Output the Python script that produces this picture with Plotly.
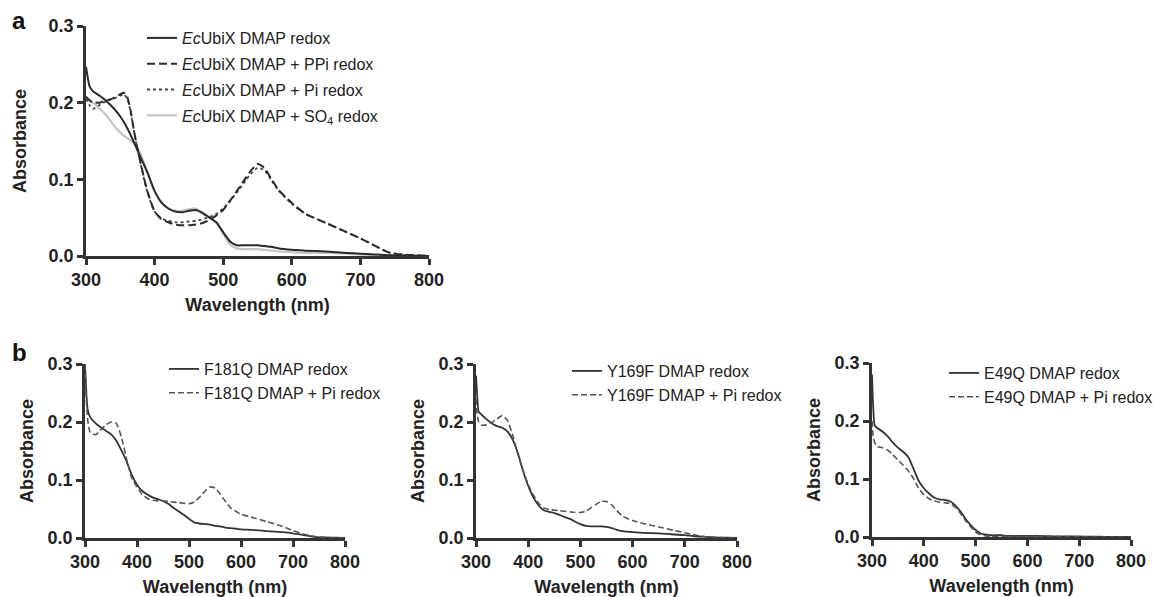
import plotly.graph_objects as go

# ---------------- data ----------------
wl_a = [300,305,310,320,330,340,350,355,360,365,370,375,380,385,390,400,410,420,430,440,
        450,460,470,480,490,500,510,520,530,540,550,560,570,580,600,620,650,680,700,720,
        740,760,800]
ubix = [0.247,0.222,0.215,0.209,0.202,0.193,0.182,0.175,0.167,0.158,0.148,0.138,0.128,0.118,0.108,
        0.085,0.070,0.062,0.058,0.057,0.059,0.060,0.056,0.050,0.044,0.031,0.019,0.014,0.014,0.014,
        0.014,0.013,0.012,0.010,0.008,0.007,0.006,0.004,0.003,0.002,0.001,0.001,0.000]
ubix_ppi = [0.208,0.203,0.200,0.200,0.203,0.206,0.211,0.213,0.208,0.190,0.163,0.140,0.120,0.100,0.083,
            0.058,0.048,0.044,0.041,0.040,0.040,0.041,0.043,0.047,0.053,0.060,0.072,0.085,0.098,0.111,
            0.120,0.115,0.101,0.087,0.069,0.055,0.043,0.031,0.023,0.014,0.005,0.002,0.000]
ubix_pi = [0.205,0.197,0.192,0.197,0.202,0.205,0.209,0.211,0.206,0.188,0.162,0.139,0.119,0.099,0.082,
           0.058,0.049,0.046,0.044,0.044,0.045,0.046,0.048,0.051,0.055,0.062,0.072,0.083,0.095,0.107,
           0.115,0.112,0.099,0.086,0.068,0.055,0.043,0.031,0.023,0.014,0.005,0.002,0.000]
ubix_so4 = [0.206,0.204,0.200,0.192,0.183,0.171,0.161,0.157,0.154,0.151,0.147,0.141,0.132,0.120,0.107,
            0.084,0.069,0.062,0.059,0.059,0.061,0.062,0.057,0.050,0.043,0.029,0.015,0.010,0.009,0.009,
            0.009,0.008,0.007,0.006,0.005,0.004,0.004,0.003,0.002,0.001,0.001,0.000,0.000]

wl_b = [300,302,305,310,320,330,340,350,360,370,380,390,400,410,420,430,440,450,460,470,
        480,490,500,510,520,530,540,550,560,570,580,600,620,650,680,700,720,740,760,780,800]
f181q = [0.300,0.260,0.222,0.208,0.198,0.191,0.185,0.179,0.168,0.151,0.132,0.109,0.092,0.081,0.075,
         0.070,0.067,0.064,0.059,0.052,0.046,0.040,0.033,0.027,0.025,0.024,0.023,0.021,0.020,0.018,
         0.017,0.015,0.014,0.012,0.010,0.008,0.005,0.002,0.001,0.0005,0.000]
f181q_pi = [0.300,0.250,0.205,0.182,0.178,0.186,0.195,0.200,0.198,0.174,0.136,0.103,0.088,0.075,0.068,
            0.065,0.064,0.064,0.063,0.062,0.061,0.060,0.059,0.062,0.070,0.080,0.088,0.086,0.076,0.063,
            0.052,0.041,0.036,0.028,0.020,0.013,0.007,0.003,0.001,0.0005,0.000]
y169f = [0.280,0.250,0.218,0.213,0.205,0.198,0.193,0.190,0.184,0.170,0.147,0.116,0.090,0.070,0.056,
         0.048,0.045,0.043,0.040,0.036,0.033,0.028,0.024,0.021,0.020,0.020,0.020,0.019,0.017,0.014,
         0.012,0.010,0.009,0.008,0.006,0.005,0.003,0.002,0.001,0.0005,0.000]
y169f_pi = [0.240,0.215,0.200,0.195,0.195,0.199,0.205,0.211,0.203,0.178,0.145,0.117,0.092,0.074,0.060,
            0.052,0.049,0.048,0.047,0.046,0.045,0.044,0.044,0.046,0.052,0.058,0.063,0.063,0.057,0.047,
            0.038,0.030,0.025,0.019,0.013,0.009,0.005,0.002,0.001,0.0005,0.000]
e49q = [0.280,0.230,0.193,0.188,0.182,0.174,0.163,0.154,0.147,0.138,0.118,0.097,0.084,0.075,0.068,
        0.065,0.064,0.062,0.055,0.045,0.032,0.021,0.012,0.006,0.004,0.003,0.003,0.003,0.002,0.002,
        0.002,0.002,0.002,0.001,0.001,0.001,0.0005,0.0005,0.000,0.000,0.000]
e49q_pi = [0.200,0.175,0.163,0.156,0.154,0.150,0.142,0.133,0.124,0.114,0.101,0.084,0.073,0.066,0.062,
           0.060,0.059,0.058,0.052,0.042,0.029,0.018,0.009,0.004,0.002,0.001,0.001,0.001,0.001,0.001,
           0.001,0.001,0.001,0.001,0.0005,0.0005,0.000,0.000,0.000,0.000,0.000]

x_ticks = [300, 400, 500, 600, 700, 800]
y_ticks = [0.0, 0.1, 0.2, 0.3]
y_tick_text = ["0.0", "0.1", "0.2", "0.3"]

# ---------------- figure ----------------
W, H = 1153, 597
FONT = "Liberation Sans, Arial, sans-serif"
AX = "#333333"

def px(x0, x1):
    return [x0 / W, x1 / W]

def py(ytop, ybot):
    return [1 - ybot / H, 1 - ytop / H]

fig = go.Figure()

def add(x, y, name, xa, ya, legend, color, width, dash, rank):
    fig.add_trace(go.Scatter(
        x=x, y=y, name=name, mode="lines", xaxis=xa, yaxis=ya, legend=legend,
        legendgroup=f"g{rank}{legend}", legendrank=rank,
        line=dict(color=color, width=width, dash=dash, shape="spline", smoothing=0.5),
        hoverinfo="skip"))

add(wl_a, ubix_so4, "<i>Ec</i>UbiX DMAP + SO<sub>4</sub> redox", "x", "y", "legend", "#c4c4c4", 2.2, "solid", 4)
add(wl_a, ubix_pi, "<i>Ec</i>UbiX DMAP + Pi redox", "x", "y", "legend", "#444444", 1.8, "dot", 3)
add(wl_a, ubix_ppi, "<i>Ec</i>UbiX DMAP + PPi redox", "x", "y", "legend", "#2a2a2a", 2.0, "8px,4px", 2)
add(wl_a, ubix, "<i>Ec</i>UbiX DMAP redox", "x", "y", "legend", "#2a2a2a", 2.0, "solid", 1)

add(wl_b, f181q, "F181Q DMAP redox", "x2", "y2", "legend2", "#333333", 1.8, "solid", 1)
add(wl_b, f181q_pi, "F181Q DMAP + Pi redox", "x2", "y2", "legend2", "#555555", 1.6, "6px,3px", 2)
add(wl_b, y169f, "Y169F DMAP redox", "x3", "y3", "legend3", "#333333", 1.8, "solid", 1)
add(wl_b, y169f_pi, "Y169F DMAP + Pi redox", "x3", "y3", "legend3", "#555555", 1.6, "6px,3px", 2)
add(wl_b, e49q, "E49Q DMAP redox", "x4", "y4", "legend4", "#333333", 1.8, "solid", 1)
add(wl_b, e49q_pi, "E49Q DMAP + Pi redox", "x4", "y4", "legend4", "#555555", 1.6, "6px,3px", 2)

tickfont = dict(family=FONT, size=18, color="#222222", weight="bold")
titlefont = dict(family=FONT, size=18, color="#222222", weight="bold")

def xaxis(domain, anchor):
    return dict(domain=domain, anchor=anchor, range=[300, 800], tickvals=x_ticks,
                showgrid=False, zeroline=False, showline=True, linecolor=AX, linewidth=2.5,
                ticks="outside", ticklen=6, tickwidth=2.5, tickcolor=AX, tickfont=tickfont,
                title=dict(text="Wavelength (nm)", font=titlefont, standoff=10),
                automargin=False, fixedrange=True)

def yaxis(domain, anchor, standoff):
    return dict(domain=domain, anchor=anchor, range=[0, 0.3], tickvals=y_ticks,
                ticktext=y_tick_text, showgrid=False, zeroline=False, showline=True,
                linecolor=AX, linewidth=2.5, ticks="outside", ticklen=6, tickwidth=2.5,
                tickcolor=AX, tickfont=tickfont,
                title=dict(text="Absorbance", font=titlefont, standoff=standoff),
                automargin=False, fixedrange=True)

legfont = dict(family=FONT, size=16, color="#222222")

def legend(x, y, gap):
    return dict(x=x / W, y=1 - y / H, xanchor="left", yanchor="top", font=legfont,
                bgcolor="rgba(0,0,0,0)", traceorder="grouped", tracegroupgap=gap,
                itemclick=False, itemdoubleclick=False)

fig.update_layout(
    width=W, height=H, margin=dict(l=0, r=0, t=0, b=0, autoexpand=False),
    paper_bgcolor="white", plot_bgcolor="white", showlegend=True,
    xaxis=xaxis(px(86, 429), "y"), yaxis=yaxis(py(26, 256), "x", 18),
    xaxis2=xaxis(px(85, 345), "y2"), yaxis2=yaxis(py(364, 538), "x2", 10),
    xaxis3=xaxis(px(476, 737), "y3"), yaxis3=yaxis(py(364, 538), "x3", 10),
    xaxis4=xaxis(px(872, 1131), "y4"), yaxis4=yaxis(py(363, 537), "x4", 10),
    legend=legend(142, 21, 2),
    legend2=legend(164, 352, 0),
    legend3=legend(567, 354, 0),
    legend4=legend(944, 356, 0),
    annotations=[
        dict(text="a", x=10 / W, y=1 - 20 / H, xref="paper", yref="paper", xanchor="left",
             yanchor="middle", showarrow=False,
             font=dict(family=FONT, size=24, color="#111111", weight="bold")),
        dict(text="b", x=10 / W, y=1 - 352 / H, xref="paper", yref="paper", xanchor="left",
             yanchor="middle", showarrow=False,
             font=dict(family=FONT, size=24, color="#111111", weight="bold")),
    ],
)

fig.write_html("out.html", config={"displayModeBar": False},
               post_script="document.body.style.margin='0';document.body.style.overflow='hidden';")
